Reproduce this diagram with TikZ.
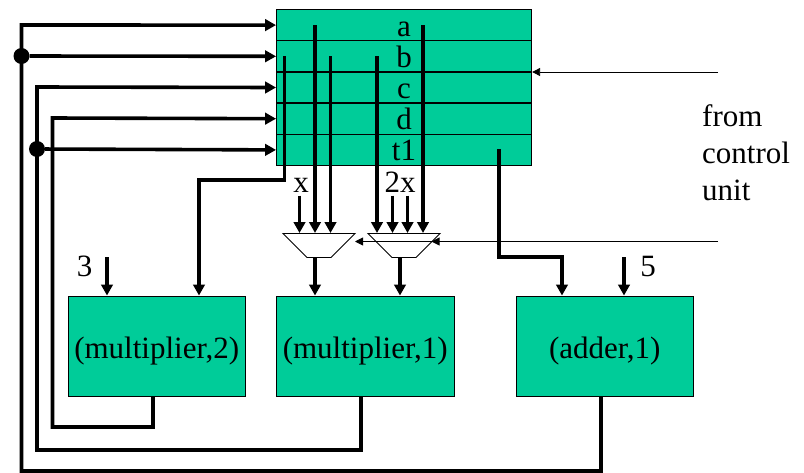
\documentclass[tikz,border=0pt]{standalone}
\usepackage{fontspec}
\setmainfont{Liberation Serif}
\usepackage{xcolor}
\usetikzlibrary{arrows.meta,calc,positioning,matrix,shapes.geometric}
\definecolor{blockgreen}{HTML}{00CC99}
\tikzset{
  bus/.style={line width=3.6pt,-{Triangle[length=11pt,width=11.5pt]}},
  ctrl/.style={line width=0.9pt,-{Triangle[length=8pt,width=8pt]}},
  block/.style={draw,line width=0.9pt,fill=blockgreen,minimum width=177.5pt,minimum height=100pt,inner sep=0pt,text height=24pt,text depth=0pt},
  mux/.style={draw,line width=0.9pt,fill=white,trapezium,shape border rotate=180,trapezium angle=45,minimum width=67.5pt,minimum height=24pt,inner sep=1pt},
  tag/.style={inner sep=0pt,anchor=base}
}
\begin{document}
\begin{tikzpicture}[x=1pt,y=-1pt,font=\fontsize{31pt}{36pt}\selectfont]
\useasboundingbox (0,0) rectangle (804,472);
\matrix[matrix of nodes,inner sep=0pt,nodes={draw,line width=0.9pt,fill=blockgreen,minimum width=255pt,minimum height=30.8pt,inner sep=0pt,text height=22pt,text depth=0pt,anchor=center},row sep=-0.5pt] (reg) at (404,87.5) {
a \\
b \\
c \\
d \\
t1 \\
};
\node[block] (multb) at (156.75,346) {(multiplier,2)};
\node[block] (multa) at (365.25,346) {(multiplier,1)};
\node[block] (addr) at (604.75,346) {(adder,1)};
\node[mux] (muxa) at (319,245.5) {};
\node[mux] (muxb) at (404,245.5) {};
% feedback from the units into the registers
\draw[bus] (addr.south -| 601,0) -- (601,471) -- (21.5,471) -- (21.5,25) -- (reg-1-1.west);
\draw[bus] (multa.south -| 361,0) -- (361,450) -- (37,450) -- (37,87) -- (reg-3-1.west);
\draw[bus] (multb.south -| 153,0) -- (153,427) -- (52.5,427) -- (52.5,118) -- (reg-4-1.west);
\node[circle,fill,inner sep=0pt,minimum size=16pt] (dota) at (21.5,56) {};
\node[circle,fill,inner sep=0pt,minimum size=16pt] (dotb) at (37,149) {};
\draw[bus] (dota) -- (reg-2-1.west);
\draw[bus] (dotb) -- (reg-5-1.west);
% register outputs
\draw[bus] (284.5,56) -- (284.5,180) -- (199,180) -- (multb.north -| 199,0);
\draw[bus] (315,25) -- (315,233);
\draw[bus] (330.5,56) -- (330.5,233);
\draw[bus] (377,56) -- (377,233);
\draw[bus] (423,25) -- (423,233);
\draw[bus] (499,149) -- (499,257) -- (562,257) -- (addr.north -| 562,0);
% constants
\node[tag] (cx) at (301,192) {x};
\node[tag] (ctwo) at (400,192) {2x};
\node[tag] (cthree) at (84.5,276) {3};
\node[tag] (cfive) at (648,276) {5};
\draw[bus] (299.5,195.5) -- (299.5,233);
\draw[bus] (392.5,195.5) -- (392.5,233);
\draw[bus] (407.5,195.5) -- (407.5,233);
\draw[bus] (107,257) -- (multb.north -| 107,0);
\draw[bus] (624,257) -- (addr.north -| 624,0);
\draw[bus] (315,257.5) -- (multa.north -| 315,0);
\draw[bus] (400,257.5) -- (multa.north -| 400,0);
% control lines
\coordinate (ctrltop) at (718,72);
\coordinate (ctrlmux) at (718,241.5);
\draw[ctrl] (ctrltop) -- (reg.east |- ctrltop);
\draw[ctrl] (ctrlmux) -- (431.5,241.5);
\draw[ctrl] (431.5,241.5) -- (355,241.5);
\node[tag,anchor=base west] (lfrom) at (702,126) {from};
\node[tag,anchor=base west] (lcontrol) at (702,163) {control};
\node[tag,anchor=base west] (lunit) at (702,200) {unit};
\end{tikzpicture}
\end{document}
